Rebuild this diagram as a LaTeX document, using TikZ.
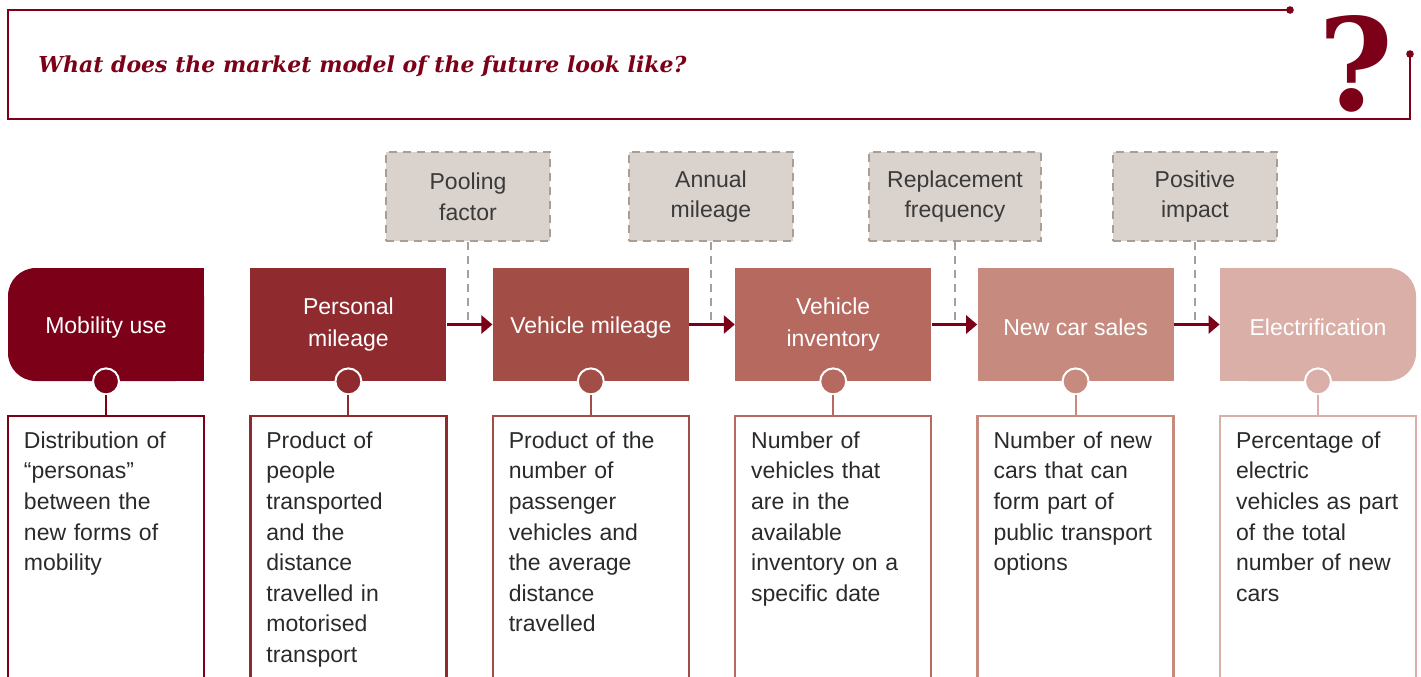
\documentclass[tikz,border=0pt]{standalone}
\usepackage{fontspec}
\setmainfont{Liberation Sans}
\newfontfamily\qfont{DejaVu Serif}
\usepackage{tikz}
\usetikzlibrary{arrows.meta}
\definecolor{cA}{HTML}{7D0019}
\definecolor{cB}{HTML}{8F2B2F}
\definecolor{cC}{HTML}{A34D47}
\definecolor{cD}{HTML}{B5695F}
\definecolor{cE}{HTML}{C78A7E}
\definecolor{cF}{HTML}{DAAFA7}
\definecolor{dfill}{HTML}{D9D2CD}
\definecolor{dline}{HTML}{A89E96}
\definecolor{dtext}{HTML}{3A3A3A}
\definecolor{btext}{HTML}{2A2A2A}
\newcommand\diagfont{\fontsize{11.5}{15.3}\selectfont}
\tikzset{
  headbox/.style={fill=#1, text=white, minimum width=98pt, minimum height=56.5pt,
    inner sep=0pt, align=center, font=\fontsize{11.5}{15.7}\selectfont,
    execute at begin node={\rule{0pt}{11.4pt}}},
  knob/.style={circle, fill=#1, draw=white, line width=1pt, minimum size=13pt, inner sep=0pt},
  desc/.style={anchor=north, draw=#1, line width=1.2pt, text width=82pt, inner xsep=8pt,
    inner ysep=7pt, text height=9pt, text depth=150pt, align=left, text=btext, font=\diagfont},
  factor/.style={fill=dfill, draw=dline, dash pattern=on 4pt off 3pt, line width=1.25pt,
    minimum width=82pt, minimum height=44.5pt, inner xsep=9pt, align=center, text=dtext, font=\diagfont},
  dashlink/.style={draw=dline, dash pattern=on 4pt off 3pt, line width=1pt},
  flow/.style={draw=cA, line width=1.3pt, -{Triangle[length=5.5pt, width=9pt]}},
}

\begin{document}
\begin{tikzpicture}[x=0.5pt, y=-0.5pt]
    \useasboundingbox (0,0) rectangle (1421,676);

    % frame and title
    \draw[cA, line width=1pt] (1290,10) -- (8,10) -- (8,119) -- (1410,119) -- (1410,54);
    \fill[cA] (1290,10) circle (1.9pt);
    \fill[cA] (1410,54) circle (1.9pt);
    \node[anchor=west, inner sep=0pt, text=cA, font=\qfont\bfseries\itshape\fontsize{11}{13}\selectfont] at (38,66) (title) {What does the market model of the future look like?};
    \node[text=cA, font=\qfont\bfseries\fontsize{64}{64}\selectfont] at (1356,64) (qmark) {?};

    % chain of boxes
    \fill[cA] (106,268) rectangle (204,381);
    \node[headbox=cA, rounded corners=14pt] at (106,324.5) (mob) {Mobility use};
    \node[headbox=cB] at (348.4,324.5) (pm) {Personal\\mileage};
    \node[headbox=cC] at (590.8,324.5) (vm) {Vehicle mileage};
    \node[headbox=cD] at (833.2,324.5) (vi) {Vehicle\\inventory};
    \node[headbox=cE] at (1075.6,324.5) (ncs) {New car sales};
    \fill[cF] (1220,268) rectangle (1318,381);
    \node[headbox=cF, rounded corners=14pt] at (1318,324.5) (el) {Electrification};

    % factors
    \node[factor] at (468,196.5) (pf) {Pooling\\factor};
    \node[factor] at (711,196.5) (am) {Annual\\mileage};
    \node[factor] at (955,196.5) (rf) {Replacement\\frequency};
    \node[factor] at (1195,196.5) (pi) {Positive\\impact};

    \coordinate (j1) at (pf.south |- pm.east);
    \coordinate (j2) at (am.south |- vm.east);
    \coordinate (j3) at (rf.south |- vi.east);
    \coordinate (j4) at (pi.south |- ncs.east);
    \draw[dashlink] (pf.south) -- (j1);
    \draw[dashlink] (am.south) -- (j2);
    \draw[dashlink] (rf.south) -- (j3);
    \draw[dashlink] (pi.south) -- (j4);

    \draw[flow] (pm) -- (vm);
    \draw[flow] (vm) -- (vi);
    \draw[flow] (vi) -- (ncs);
    \draw[flow] (ncs) -- (el);

    % descriptions
    \node[desc=cA] at (106,415) (mobd) {Distribution of\\``personas''\\between the\\new forms of\\mobility};
    \node[desc=cB] at (348.4,415) (pmd) {Product of\\people\\transported\\and the\\distance\\travelled in\\motorised\\transport};
    \node[desc=cC] at (590.8,415) (vmd) {Product of the\\number of\\passenger\\vehicles and\\the average\\distance\\travelled};
    \node[desc=cD] at (833.2,415) (vid) {Number of\\vehicles that\\are in the\\available\\inventory on a\\specific date};
    \node[desc=cE] at (1075.6,415) (ncsd) {Number of new\\cars that can\\form part of\\public transport\\options};
    \node[desc=cF] at (1318,415) (eld) {Percentage of\\electric\\vehicles as part\\of the total\\number of new\\cars};

    % knobs
    \node[knob=cA] at (mob.south) (k1) {};
    \node[knob=cB] at (pm.south) (k2) {};
    \node[knob=cC] at (vm.south) (k3) {};
    \node[knob=cD] at (vi.south) (k4) {};
    \node[knob=cE] at (ncs.south) (k5) {};
    \node[knob=cF] at (el.south) (k6) {};
    \draw[cA, line width=1pt] (k1) -- (mobd);
    \draw[cB, line width=1pt] (k2) -- (pmd);
    \draw[cC, line width=1pt] (k3) -- (vmd);
    \draw[cD, line width=1pt] (k4) -- (vid);
    \draw[cE, line width=1pt] (k5) -- (ncsd);
    \draw[cF, line width=1pt] (k6) -- (eld);
  \end{tikzpicture}
\end{document}
